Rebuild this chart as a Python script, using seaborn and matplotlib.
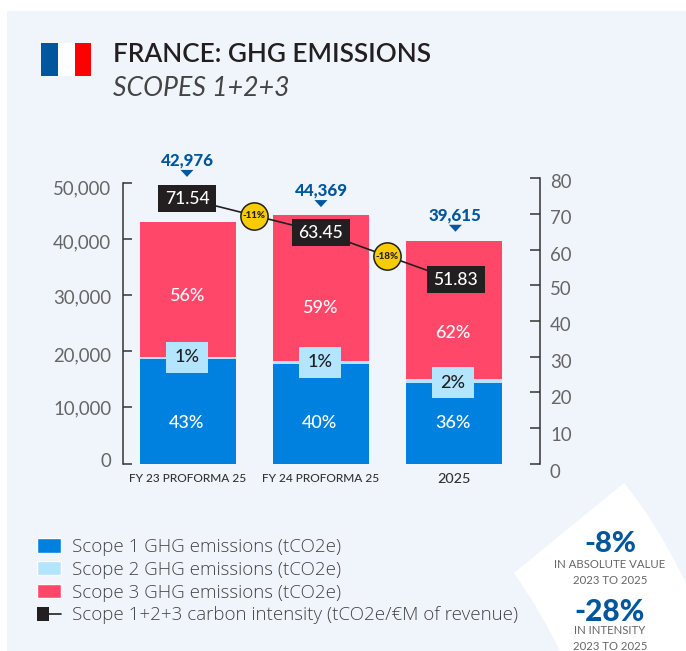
import numpy as np, pandas as pd
import matplotlib
matplotlib.use("Agg")
import matplotlib.pyplot as plt
import seaborn as sns
from matplotlib.lines import Line2D
from matplotlib.patches import Patch, Rectangle, Polygon, PathPatch
from matplotlib.path import Path
from matplotlib.legend_handler import HandlerBase
from matplotlib.transforms import Affine2D, IdentityTransform

# ---- data ----
categories = ["FY 23 PROFORMA 25", "FY 24 PROFORMA 25", "2025"]
scope1 = [18600, 17800, 14400]
scope2 = [400, 500, 700]
totals = [42976, 44369, 39615]
scope3 = [t - a - b for t, a, b in zip(totals, scope1, scope2)]
intensity = [71.54, 63.45, 51.83]
changes = ["-11%", "-18%"]
pct1 = ["43%", "40%", "36%"]
pct2 = ["1%", "1%", "2%"]
pct3 = ["56%", "59%", "62%"]
left_ticks = [0, 10000, 20000, 30000, 40000, 50000]
right_ticks = [0, 10, 20, 30, 40, 50, 60, 70, 80]
legend_labels = ["Scope 1 GHG emissions (tCO2e)", "Scope 2 GHG emissions (tCO2e)",
                 "Scope 3 GHG emissions (tCO2e)",
                 "Scope 1+2+3 carbon intensity (tCO2e/€M of revenue)"]

# ---- style ----
BLUE, LIGHT, RED, DARK = "#0081E0", "#B3E5FF", "#FF4869", "#231F20"
NAVY, PANEL, GOLD, GREY = "#00579E", "#F0F5FC", "#F7CC00", "#666666"
W, H = 686, 651
sns.set_theme(style="white")
plt.rcParams["font.family"] = ["Lato", "DejaVu Sans"]
fig = plt.figure(figsize=(W / 100, H / 100), dpi=100, facecolor="white")

# ---- page decoration, in pixel coordinates ----
bg = fig.add_axes([0, 0, 1, 1], zorder=-1)
bg.set_xlim(0, W); bg.set_ylim(H, 0); bg.axis("off")
bg.add_patch(Rectangle((7, 11), W - 7, H - 11, fc=PANEL, ec="none"))
bg.add_patch(PathPatch(Path(
    [(624, 483), (655, 520), (686, 583), (686, 651), (560, 651), (540, 610), (514, 573), (624, 483)],
    [Path.MOVETO, Path.CURVE3, Path.CURVE3, Path.LINETO, Path.LINETO, Path.CURVE3, Path.CURVE3, Path.CLOSEPOLY]),
    fc="white", ec="none"))
for x0, x1, c in [(41, 58, NAVY), (58, 75, "white"), (75, 91, "#FF0000")]:
    bg.add_patch(Rectangle((x0, 43), x1 - x0, 33, fc=c, ec="none"))
bg.text(113, 54, "FRANCE: GHG EMISSIONS", fontsize=18.85, fontweight="semibold", color=DARK, va="center")
bg.text(113, 88, "SCOPES 1+2+3", fontsize=19.2, fontstyle="italic", fontweight="normal", color="#444444", va="center")
for y, s, fs, fw, c in [(544, "-8%", 21, "black", NAVY), (564, "IN ABSOLUTE VALUE", 8.2, "normal", GREY),
                        (580, "2023 TO 2025", 8.2, "normal", GREY), (612, "-28%", 21.5, "black", NAVY),
                        (631, "IN INTENSITY", 8.2, "normal", GREY), (647, "2023 TO 2025", 8.2, "normal", GREY)]:
    bg.text(610, y, s, fontsize=fs, fontweight=fw, color=c, ha="center", va="center")

# ---- axes ----
L, R, T, B = 122.7, 540, 178.3, 463.5
ax = fig.add_axes([L / W, 1 - B / H, (R - L) / W, (B - T) / H])
ax.patch.set_alpha(0)
x = np.arange(len(categories))
df = pd.DataFrame({"cat": categories, "s1": scope1, "s2": scope2, "s3": scope3})
bot = np.zeros(3)
for col, c in [("s1", BLUE), ("s2", LIGHT), ("s3", RED)]:
    sns.barplot(data=df, x="cat", y=col, color=c, saturation=1, width=0.722, bottom=bot,
                linewidth=0, ax=ax, order=categories)
    bot = bot + df[col].values
ax.set_xlabel(""); ax.set_ylabel("")
ax.set_xlim(-0.491, 2.647)
ax.set_ylim(0, 50838)
ax.set_yticks(left_ticks)
ax.set_yticklabels([f"{v:,}" for v in left_ticks], fontsize=13.4, fontweight="normal", color=GREY)
ax.tick_params(axis="y", direction="in", length=6.8, width=1.1, color="#333333", pad=8.2, left=True)
ax.tick_params(axis="x", length=0, pad=7)
ax.set_xticks(x)
ax.set_xticklabels(categories, fontsize=8.6, fontweight="medium", color="#333333")
ax.get_xticklabels()[-1].set_fontsize(10.4)
for s in ["top", "bottom", "right"]:
    ax.spines[s].set_visible(False)
ax.spines["left"].set_bounds(0, 50000)
ax.spines["left"].set_color("#333333"); ax.spines["left"].set_linewidth(1.1)

ax2 = ax.twinx()
ax2.patch.set_alpha(0)
ax2.set_ylim(0, 80)
ax2.set_yticks(right_ticks)
ax2.set_yticklabels([str(v) for v in right_ticks], fontsize=13.4, fontweight="normal", color=GREY)
ax2.tick_params(axis="y", direction="in", length=7.2, width=1.1, color="#333333", pad=7.2, right=True)
for s in ["top", "bottom", "left"]:
    ax2.spines[s].set_visible(False)
ax2.spines["right"].set_color("#333333"); ax2.spines["right"].set_linewidth(1.1)

# printed tick labels do not sit exactly on their ticks in the source
for lab, dy in zip(ax.get_yticklabels(), [3.5, 0, -3, -1, -2, -4]):
    lab.set_transform(lab.get_transform() + Affine2D().translate(0, dy))
for lab, dy in zip(ax2.get_yticklabels(), [-7, -6, -5, -4, -3, -2.5, -4, -3.5, -2.5]):
    lab.set_transform(lab.get_transform() + Affine2D().translate(0, dy))

# the intensity line has its own hidden scale in the source
ax3 = ax.twinx()
ax3.patch.set_alpha(0); ax3.axis("off")
ax3.set_ylim(7.18, 76.57)
sns.lineplot(x=x, y=intensity, color=DARK, linewidth=1.2, ax=ax3, zorder=2, errorbar=None)
ax3.set_xlim(ax.get_xlim()); ax3.set_ylim(7.18, 76.57)
ax3.set_xlabel(""); ax3.set_ylabel("")
mid_y = [(a + b) / 2 for a, b in zip(intensity[:-1], intensity[1:])]
ax3.scatter(x[:-1] + 0.5, mid_y, s=385, color=GOLD, edgecolor=DARK, linewidth=1.1, zorder=3)
for xi, yi, s in zip(x[:-1] + 0.5, mid_y, changes):
    ax3.text(xi, yi, s, fontsize=7, fontweight="black", color=DARK, ha="center", va="center", zorder=4)

def px(a, xi, yi):
    return a.transData.transform((xi, yi))

def pbox(a, cx, cy, w, h, c, z=5):
    a.add_patch(Rectangle((cx - w / 2, cy - h / 2), w, h, fc=c, ec="none", transform=IdentityTransform(),
                          zorder=z, clip_on=False))

# carbon intensity boxes
for xi, v, dx in zip(x, intensity, [-1, 0, 2]):
    p = px(ax3, xi, v)
    pbox(ax3, p[0] + dx, p[1], 58, 27, DARK)
    ax3.text(p[0] + dx, p[1] - 0.5, f"{v:.2f}", transform=IdentityTransform(), fontsize=12.6, fontweight="medium",
             color="white", ha="center", va="center", zorder=6)

# totals
total_dx, total_dy = [-1, 0, 1.5], [49, 11, 13]
for xi, t, dx, dy in zip(x, totals, total_dx, total_dy):
    p = px(ax, xi, t)
    cx, cy = p[0] + dx, p[1] + dy
    ax3.add_patch(Polygon([(cx - 6.5, cy + 3.5), (cx + 6.5, cy + 3.5), (cx, cy - 3.5)], fc=NAVY, ec="none",
                          transform=IdentityTransform(), zorder=6, clip_on=False))
    ax3.text(cx, cy + 13, f"{t:,}", transform=IdentityTransform(), fontsize=12.2, fontweight="black",
             color=NAVY, ha="center", va="center", zorder=6)

# percentages inside the bars
s1_dy, s2_dy, s3_dy = [-12, -9, 0], [1, 0, -2], [-6, -20, -23]
for i, xi in enumerate(x):
    p = px(ax, xi, scope1[i] / 2)
    ax3.text(p[0] - 1, p[1] + s1_dy[i], pct1[i], transform=IdentityTransform(), fontsize=13, color="white",
             fontweight="medium", ha="center", va="center", zorder=4)
    p = px(ax, xi, scope1[i] + scope2[i] / 2)
    pbox(ax3, p[0] - 1, p[1] + s2_dy[i], 42, 31, LIGHT, 3)
    ax3.text(p[0] - 1, p[1] + s2_dy[i], pct2[i], transform=IdentityTransform(), fontsize=13, color=DARK,
             fontweight="medium", ha="center", va="center", zorder=4)
    p = px(ax, xi, scope1[i] + scope2[i] + scope3[i] / 2)
    ax3.text(p[0] - 1, p[1] + s3_dy[i], pct3[i], transform=IdentityTransform(), fontsize=13, color="white",
             fontweight="medium", ha="center", va="center", zorder=4)

# ---- legend ----
class BoxLine(HandlerBase):
    def create_artists(self, legend, orig, xd, yd, width, height, fontsize, trans):
        r = Rectangle((-xd, -yd), width * 0.5, height, fc=DARK, ec="none", transform=trans)
        l = Line2D([-xd + width * 0.5, -xd + width], [-yd + height / 2] * 2, color=DARK, lw=1.2, transform=trans)
        return [r, l]

handles = [Patch(fc=BLUE), Patch(fc=LIGHT), Patch(fc=RED), Line2D([], [], color=DARK)]
leg = fig.legend(handles, legend_labels, loc="upper left", bbox_to_anchor=(37 / W, 1 - 538 / H),
                 borderpad=0, borderaxespad=0, frameon=False, labelspacing=0.255,
                 handlelength=1.28, handleheight=0.78, handletextpad=0.6,
                 handler_map={Line2D: BoxLine()}, prop={"family": ["Open Sans", "DejaVu Sans"], "size": 13.5, "weight": "light"},
                 labelcolor="#444444")

fig.savefig("out.png", dpi=100, facecolor="white")
